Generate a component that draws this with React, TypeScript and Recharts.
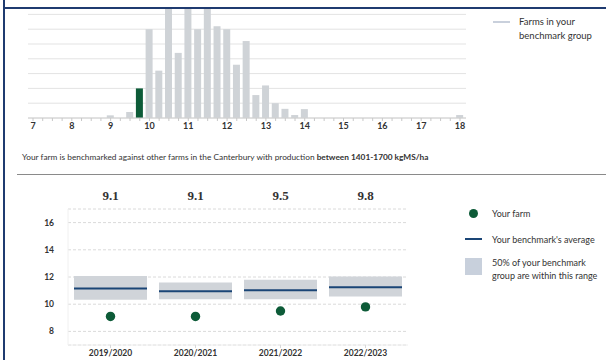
import React from "react";
import {
  BarChart,
  Bar,
  Cell,
  XAxis,
  YAxis,
  CartesianGrid,
  ComposedChart,
  Scatter,
} from "recharts";

// Histogram of the benchmark group (bin start, share of farms per bin)
const histBins = [9.0, 9.5, 9.75, 10.0, 10.25, 10.5, 10.75, 11.0, 11.25, 11.5, 11.75, 12.0, 12.25, 12.5, 12.75, 13.0, 13.25, 13.5, 13.75, 14.0, 18.0];
const histShares = [0.18, 0.4, 2.0, 6.0, 3.2, 8.3, 4.4, 8.8, 6.0, 8.5, 6.2, 6.0, 3.6, 5.2, 1.55, 2.2, 1.0, 0.62, 0.2, 0.6, 0.2];
const yourFarmBin = 9.75;
const histMajorTicks = [7, 8, 9, 10, 11, 12, 13, 14, 15, 16, 17, 18];
const histGridTicks = [0, 1, 2, 3, 4, 5, 6, 7, 8, 9, 10];

// Season comparison
const seasons = ["2019/2020", "2020/2021", "2021/2022", "2022/2023"];
const farmValues = [9.1, 9.1, 9.5, 9.8];
const benchmarkAvg = [11.15, 10.96, 11.03, 11.25];
const rangeLow = [10.32, 10.37, 10.37, 10.56];
const rangeHigh = [12.08, 11.59, 11.79, 12.03];
const seasonYTicks = [8, 10, 12, 14, 16];

const NAVY = "#1a4576";
const GREEN = "#0d5b38";
const BAR_GREY = "#cfd3d7";
const TEXT = "#333333";
const FONT = "Lato, 'Open Sans', sans-serif";

const histData = histBins.map((b, i) => ({ bin: b, share: histShares[i] }));

// minor ticks every quarter unit between the labelled whole numbers
const histTicks: number[] = [];
histMajorTicks.forEach((t, i) => {
  histTicks.push(t);
  if (i < histMajorTicks.length - 1) {
    histTicks.push(t + 0.25, t + 0.5, t + 0.75);
  }
});

const seasonData = seasons.map((s, i) => ({
  season: s,
  farm: farmValues[i],
  avg: benchmarkAvg[i],
  range: [rangeLow[i], rangeHigh[i]],
}));

const farmBySeason: Record<string, number> = {};
seasons.forEach((s, i) => (farmBySeason[s] = farmValues[i]));

const HistTick = (props: any) => {
  const { x, y, payload } = props;
  if (!Number.isInteger(payload.value)) return <g />;
  return (
    <text x={x} y={y} dy="0.71em" textAnchor="middle" fontSize={9} fontWeight={700} fill={TEXT} fontFamily={FONT}>
      {payload.value}
    </text>
  );
};

const TopValueTick = (props: any) => {
  const { x, y, payload } = props;
  return (
    <text x={x} y={y} textAnchor="middle" fontSize={13} fontWeight={700} fill={TEXT} fontFamily="'Liberation Serif', 'DejaVu Serif', serif">
      {farmBySeason[payload.value].toFixed(1)}
    </text>
  );
};

const BAR_W = 73;

const AvgShape = (props: any) => {
  const { cx, cy } = props;
  return <line x1={cx - BAR_W / 2} x2={cx + BAR_W / 2} y1={cy} y2={cy} stroke={NAVY} strokeWidth={2} />;
};

const FarmDot = (props: any) => {
  const { cx, cy } = props;
  return <circle cx={cx} cy={cy} r={4.7} fill={GREEN} />;
};

export default function App() {
  return (
    <div
      style={{
        position: "absolute",
        left: 0,
        top: 0,
        width: 606,
        height: 360,
        overflow: "hidden",
        background: "#fff",
        fontFamily: FONT,
        color: TEXT,
      }}
    >
      {/* page frame */}
      <div style={{ position: "absolute", left: 3, top: 0, width: 2, height: 360, background: "#1f3b70" }} />
      <div style={{ position: "absolute", left: 4, top: 7, width: 602, height: 1.5, background: "#1f3b70" }} />

      {/* histogram, clipped below the frame line */}
      <div style={{ position: "absolute", left: 0, top: 9, width: 606, height: 130, overflow: "hidden" }}>
        <div style={{ position: "absolute", left: 0, top: -39 }}>
          <BarChart width={606} height={168} data={histData} margin={{ top: 0, right: 140, bottom: 0, left: 28 }}>
            <CartesianGrid vertical={false} stroke="#e3e3e3" />
            <XAxis
              type="number"
              dataKey="bin"
              domain={[7, 18]}
              ticks={histTicks}
              interval={0}
              padding={{ left: 5, right: 6 }}
              height={20}
              tick={<HistTick />}
              tickSize={3}
              tickLine={{ stroke: "#c8c8c8" }}
              axisLine={{ stroke: "#d0d0d0" }}
            />
            <YAxis hide domain={[0, 10]} ticks={histGridTicks} interval={0} />
            <Bar dataKey="share" barSize={7} isAnimationActive={false}>
              {histData.map((d) => (
                <Cell key={d.bin} fill={d.bin === yourFarmBin ? GREEN : BAR_GREY} />
              ))}
            </Bar>
          </BarChart>
        </div>
      </div>

      {/* histogram legend */}
      <div style={{ position: "absolute", left: 493, top: 20.5, width: 17, height: 2, background: "#c9d0dc" }} />
      <div style={{ position: "absolute", left: 519, top: 15, fontSize: 9.5, lineHeight: "14px", whiteSpace: "nowrap" }}>
        Farms in your
        <br />
        benchmark group
      </div>

      {/* benchmark description */}
      <div style={{ position: "absolute", left: 22, top: 151, fontSize: 8.3, lineHeight: "12px", whiteSpace: "nowrap" }}>
        Your farm is benchmarked against other farms in the Canterbury with production <b>between 1401-1700 kgMS/ha</b>
      </div>
      <div style={{ position: "absolute", left: 17, top: 174, width: 589, height: 1, background: "#8a8a8a" }} />

      {/* season comparison */}
      <div style={{ position: "absolute", left: 0, top: 181 }}>
        <ComposedChart width={420} height={180} data={seasonData} margin={{ top: 0, right: 12, bottom: 0, left: 0 }}>
          <CartesianGrid vertical={false} stroke="#dadada" strokeDasharray="3 2" />
          <XAxis
            xAxisId="top"
            orientation="top"
            dataKey="season"
            height={28}
            axisLine={false}
            tickLine={false}
            tickSize={0}
            tickMargin={9}
            tick={<TopValueTick />}
          />
          <XAxis
            dataKey="season"
            height={16}
            axisLine={{ stroke: "#eeeeee" }}
            tickLine={{ stroke: "#d8d8d8" }}
            tickSize={3}
            tickMargin={2}
            tick={{ fontSize: 8.5, fontWeight: 700, fill: TEXT, fontFamily: FONT }}
          />
          <YAxis
            domain={[7, 17]}
            ticks={seasonYTicks}
            interval={0}
            width={68}
            axisLine={{ stroke: "#f0f0f0" }}
            tickLine={false}
            tickSize={0}
            tickMargin={14}
            tick={{ fontSize: 8.5, fontWeight: 700, fill: TEXT, fontFamily: FONT }}
          />
          <Bar dataKey="range" barSize={BAR_W} fill="#d0d4d9" isAnimationActive={false} />
          <Scatter dataKey="avg" shape={<AvgShape />} isAnimationActive={false} />
          <Scatter dataKey="farm" shape={<FarmDot />} isAnimationActive={false} />
        </ComposedChart>
      </div>

      {/* season legend */}
      <div style={{ position: "absolute", left: 468.5, top: 209, width: 9, height: 9, borderRadius: "50%", background: GREEN }} />
      <div style={{ position: "absolute", left: 492, top: 207, fontSize: 9, lineHeight: "13px", whiteSpace: "nowrap" }}>Your farm</div>
      <div style={{ position: "absolute", left: 465, top: 238.3, width: 17, height: 2, background: NAVY }} />
      <div style={{ position: "absolute", left: 492, top: 233, fontSize: 9, lineHeight: "13px", whiteSpace: "nowrap" }}>
        Your benchmark's average
      </div>
      <div style={{ position: "absolute", left: 465, top: 258, width: 17, height: 17, background: "#c8d0dc" }} />
      <div style={{ position: "absolute", left: 492, top: 255.5, fontSize: 9, lineHeight: "13.7px", whiteSpace: "nowrap" }}>
        50% of your benchmark
        <br />
        group are within this range
      </div>
    </div>
  );
}
